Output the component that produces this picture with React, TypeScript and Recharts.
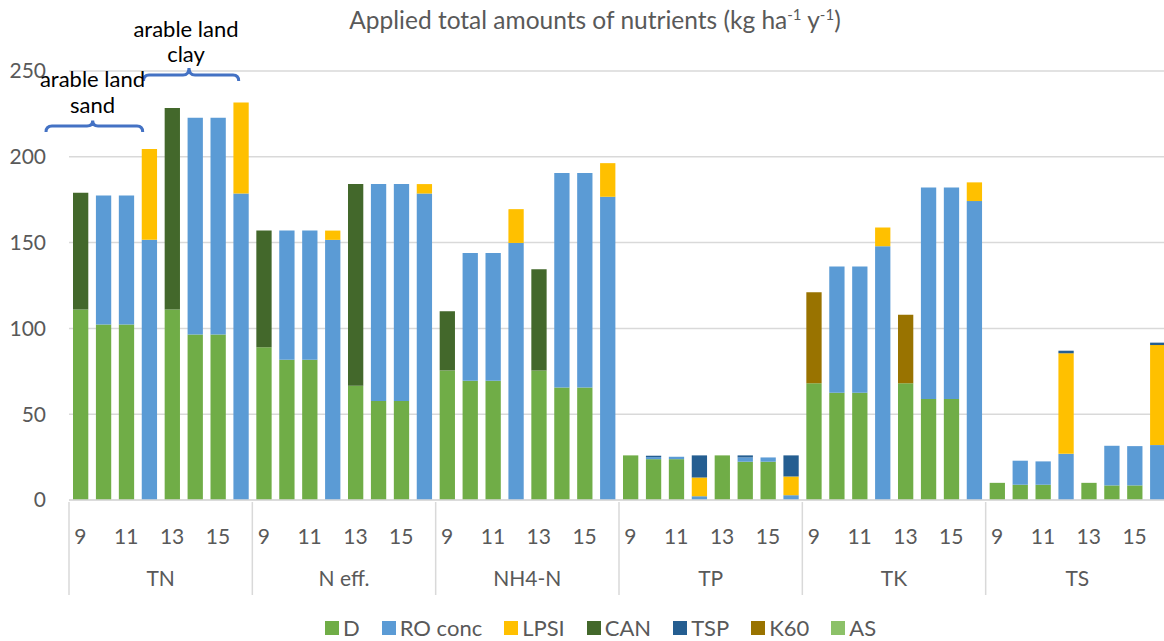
import { BarChart, Bar, XAxis, YAxis, CartesianGrid } from 'recharts'

// 6 nutrients x 8 scenarios (9..16), stacked by fertiliser source
const groups = ['TN', 'N eff.', 'NH4-N', 'TP', 'TK', 'TS']
const scenarios = [9, 10, 11, 12, 13, 14, 15, 16]
const yTicks = [0, 50, 100, 150, 200, 250]

const dValues = [
  111, 102.2, 102.2, 0, 111, 96.4, 96.4, 0,
  89, 81.8, 81.8, 0, 66.6, 57.7, 57.7, 0,
  75.5, 69.5, 69.5, 0, 75.5, 65.6, 65.6, 0,
  26, 23.8, 23.8, 0, 26, 22.3, 22.3, 0,
  68, 62.5, 62.5, 0, 68, 58.8, 58.8, 0,
  10, 8.9, 8.9, 0, 10, 8.5, 8.5, 0,
]
const roConc = [
  0, 75.3, 75.3, 151.6, 0, 126.4, 126.4, 178.6,
  0, 75.2, 75.2, 151.6, 0, 126.4, 126.4, 178.6,
  0, 74.5, 74.5, 149.8, 0, 124.9, 124.9, 176.7,
  0, 1.2, 1.4, 2.2, 0, 2.5, 2.5, 2.8,
  0, 73.5, 73.5, 147.9, 0, 123.3, 123.3, 174.2,
  0, 14, 13.6, 26.9, 0, 23.1, 22.9, 32,
]
const lpsi = [
  0, 0, 0, 53, 0, 0, 0, 53,
  0, 0, 0, 5.4, 0, 0, 0, 5.5,
  0, 0, 0, 19.7, 0, 0, 0, 19.6,
  0, 0, 0, 10.9, 0, 0, 0, 10.9,
  0, 0, 0, 10.9, 0, 0, 0, 10.9,
  0, 0, 0, 58.6, 0, 0, 0, 58.3,
]
const can = [
  68, 0, 0, 0, 117.5, 0, 0, 0,
  68, 0, 0, 0, 117.5, 0, 0, 0,
  34.5, 0, 0, 0, 59, 0, 0, 0,
  0, 0, 0, 0, 0, 0, 0, 0,
  0, 0, 0, 0, 0, 0, 0, 0,
  0, 0, 0, 0, 0, 0, 0, 0,
]
const tsp = [
  0, 0, 0, 0, 0, 0, 0, 0,
  0, 0, 0, 0, 0, 0, 0, 0,
  0, 0, 0, 0, 0, 0, 0, 0,
  0, 0.8, 0, 12.9, 0, 1.2, 0, 12.3,
  0, 0, 0, 0, 0, 0, 0, 0,
  0, 0, 0, 1.5, 0, 0, 0, 1.4,
]
const k60 = [
  0, 0, 0, 0, 0, 0, 0, 0,
  0, 0, 0, 0, 0, 0, 0, 0,
  0, 0, 0, 0, 0, 0, 0, 0,
  0, 0, 0, 0, 0, 0, 0, 0,
  53, 0, 0, 0, 40, 0, 0, 0,
  0, 0, 0, 0, 0, 0, 0, 0,
]
const asValues = new Array(48).fill(0)

const series = [
  { key: 'D', color: '#70AD47', values: dValues },
  { key: 'RO conc', color: '#5B9BD5', values: roConc },
  { key: 'LPSI', color: '#FFC000', values: lpsi },
  { key: 'CAN', color: '#43682B', values: can },
  { key: 'TSP', color: '#255E91', values: tsp },
  { key: 'K60', color: '#997300', values: k60 },
  { key: 'AS', color: '#8CC168', values: asValues },
]

const rows = groups.flatMap((g, gi) =>
  scenarios.map((s, si) => {
    const i = gi * 8 + si
    const row: Record<string, any> = { key: `${g}-${s}`, group: g, scen: s }
    series.forEach((sr) => { row[sr.key] = sr.values[i] })
    return row
  })
)

const FONT = 'Lato, "Open Sans", sans-serif'
const TEXT = '#595959'
const GRID = '#D9D9D9'

const W = 1175
const H = 641
const Y_W = 69
const RIGHT = 6
const PLOT_W = W - Y_W - RIGHT
const BAND = PLOT_W / rows.length
const GROUP_W = BAND * scenarios.length

function CategoryTick(props: any) {
  const { x, y, payload } = props
  const i = rows.findIndex((r) => r.key === payload.value)
  if (i < 0) return null
  const r = rows[i]
  const left = x - BAND / 2
  return (
    <g>
      {r.scen % 2 === 1 && (
        <text x={x} y={y + 42} textAnchor="middle" fill={TEXT} fontSize={21} fontFamily={FONT}>
          {r.scen}
        </text>
      )}
      {i % 8 === 0 && (
        <>
          <line x1={left} x2={left} y1={y} y2={y + 93} stroke={GRID} strokeWidth={1.5} />
          <text x={left + GROUP_W / 2} y={y + 84} textAnchor="middle" fill={TEXT} fontSize={21} fontFamily={FONT}>
            {r.group}
          </text>
        </>
      )}
      {i === rows.length - 1 && (
        <line x1={x + BAND / 2} x2={x + BAND / 2} y1={y} y2={y + 93} stroke={GRID} strokeWidth={1.5} />
      )}
    </g>
  )
}

export default function App() {
  return (
    <div style={{ position: 'absolute', left: 0, top: 0, width: 1164, height: 641, overflow: 'hidden', background: '#fff', fontFamily: FONT }}>
      <div style={{ position: 'absolute', left: 0, width: 1190, top: 5, textAlign: 'center', fontSize: 24.5, color: TEXT, whiteSpace: 'nowrap' }}>
        Applied total amounts of nutrients (kg ha<sup style={{ fontSize: 15 }}>-1</sup> y<sup style={{ fontSize: 15 }}>-1</sup>)
      </div>

      <BarChart
        width={W}
        height={H}
        data={rows}
        margin={{ top: 71, right: RIGHT, left: 0, bottom: 41 }}
        barSize={15.3}
      >
        <CartesianGrid vertical={false} stroke={GRID} strokeWidth={1.5} />
        <XAxis
          dataKey="key"
          interval={0}
          height={100}
          tickLine={false}
          tickSize={0}
          axisLine={{ stroke: GRID, strokeWidth: 1.5 }}
          tick={CategoryTick}
        />
        <YAxis
          width={Y_W}
          domain={[0, 250]}
          ticks={yTicks}
          tickLine={false}
          axisLine={false}
          tickMargin={17}
          tick={{ fill: TEXT, fontSize: 21, fontFamily: FONT }}
        />
        {series.map((s) => (
          <Bar key={s.key} dataKey={s.key} stackId="a" fill={s.color} isAnimationActive={false} />
        ))}
      </BarChart>

      {/* annotations: land-use brackets */}
      <svg width={1164} height={641} style={{ position: 'absolute', left: 0, top: 0, pointerEvents: 'none' }}>
        <path
          d="M46,132 Q46,126 52,126 L87,126 Q92.7,126 92.7,120.5 Q92.7,126 98,126 L137,126 Q142.7,126 142.7,132"
          fill="none" stroke="#4472C4" strokeWidth={3}
        />
        <path
          d="M143.5,81 Q143.5,75 149,75 L183,75 Q189,75 189,68 Q189,75 195,75 L233,75 Q238.7,75 238.7,81"
          fill="none" stroke="#4472C4" strokeWidth={3}
        />
        <text x={92.5} y={86.5} textAnchor="middle" fontSize={22} fontFamily={FONT} fill="#000">arable land</text>
        <text x={92.5} y={113} textAnchor="middle" fontSize={22} fontFamily={FONT} fill="#000">sand</text>
        <text x={186} y={36.5} textAnchor="middle" fontSize={22} fontFamily={FONT} fill="#000">arable land</text>
        <text x={186} y={62} textAnchor="middle" fontSize={22} fontFamily={FONT} fill="#000">clay</text>
      </svg>

      <div style={{ position: 'absolute', left: 325, top: 614, display: 'flex', alignItems: 'center', fontSize: 22, color: TEXT, whiteSpace: 'nowrap' }}>
        {series.map((s) => (
          <div key={s.key} style={{ display: 'flex', alignItems: 'center', marginRight: 22 }}>
            <span style={{ width: 14, height: 14, background: s.color, display: 'inline-block', marginRight: 4 }} />
            <span>{s.key}</span>
          </div>
        ))}
      </div>
    </div>
  )
}
